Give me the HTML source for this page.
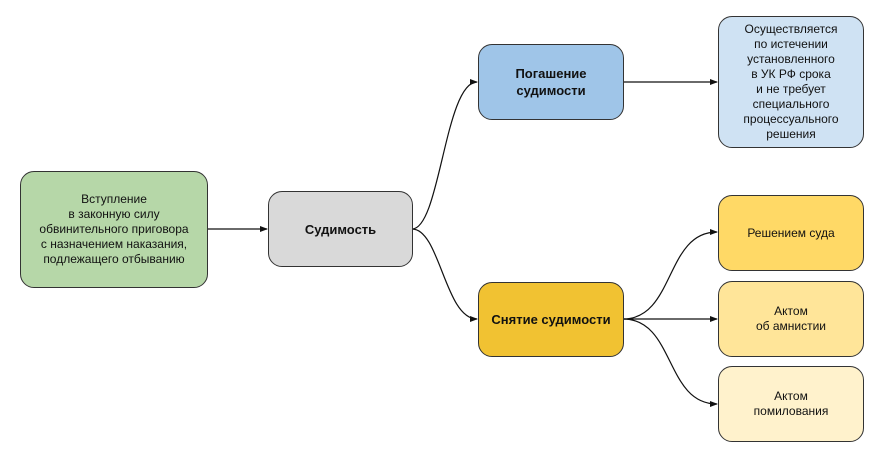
<!DOCTYPE html>
<html><head><meta charset="utf-8"><style>
body{margin:0;width:883px;height:458px;background:#fff;overflow:hidden;position:relative;font-family:"Liberation Sans",Arial,sans-serif;}
.b{position:absolute;box-sizing:border-box;border:1px solid #333;border-radius:14px;display:flex;align-items:center;justify-content:center;text-align:center;font-size:12px;line-height:15px;color:#111;}
.bold{font-weight:bold;font-size:13px;line-height:17px;}
svg{position:absolute;left:0;top:0;}
</style></head><body>
<svg width="883" height="458">
<defs><marker id="a" markerWidth="8" markerHeight="6" refX="7" refY="3" orient="auto" markerUnits="userSpaceOnUse"><path d="M0,0 L8,3 L0,6 z" fill="#111"/></marker></defs>
<g fill="none" stroke="#111" stroke-width="1.2">
<path d="M207,229 L267,229" marker-end="url(#a)"/>
<path d="M412,229 C440,229 445,82 477,82" marker-end="url(#a)"/>
<path d="M412,229 C440,229 445,319 477,319" marker-end="url(#a)"/>
<path d="M623,82 L717,82" marker-end="url(#a)"/>
<path d="M623,319 C675,319 665,232 717,232" marker-end="url(#a)"/>
<path d="M623,319 L717,319" marker-end="url(#a)"/>
<path d="M623,319 C675,319 665,404 717,404" marker-end="url(#a)"/>
</g></svg>
<div class="b" style="left:20px;top:171px;width:188px;height:117px;background:#b6d7a8">Вступление<br>в законную силу<br>обвинительного приговора<br>с назначением наказания,<br>подлежащего отбыванию</div>
<div class="b bold" style="left:268px;top:191px;width:145px;height:76px;background:#d9d9d9">Судимость</div>
<div class="b bold" style="left:478px;top:44px;width:146px;height:76px;background:#9fc5e8">Погашение<br>судимости</div>
<div class="b" style="left:718px;top:16px;width:146px;height:132px;background:#cfe2f3">Осуществляется<br>по истечении<br>установленного<br>в УК РФ срока<br>и не требует<br>специального<br>процессуального<br>решения</div>
<div class="b bold" style="left:478px;top:282px;width:146px;height:75px;background:#f1c232">Снятие судимости</div>
<div class="b" style="left:718px;top:195px;width:146px;height:76px;background:#ffd966">Решением суда</div>
<div class="b" style="left:718px;top:281px;width:146px;height:76px;background:#ffe599">Актом<br>об амнистии</div>
<div class="b" style="left:718px;top:366px;width:146px;height:76px;background:#fff2cc">Актом<br>помилования</div>
</body></html>
